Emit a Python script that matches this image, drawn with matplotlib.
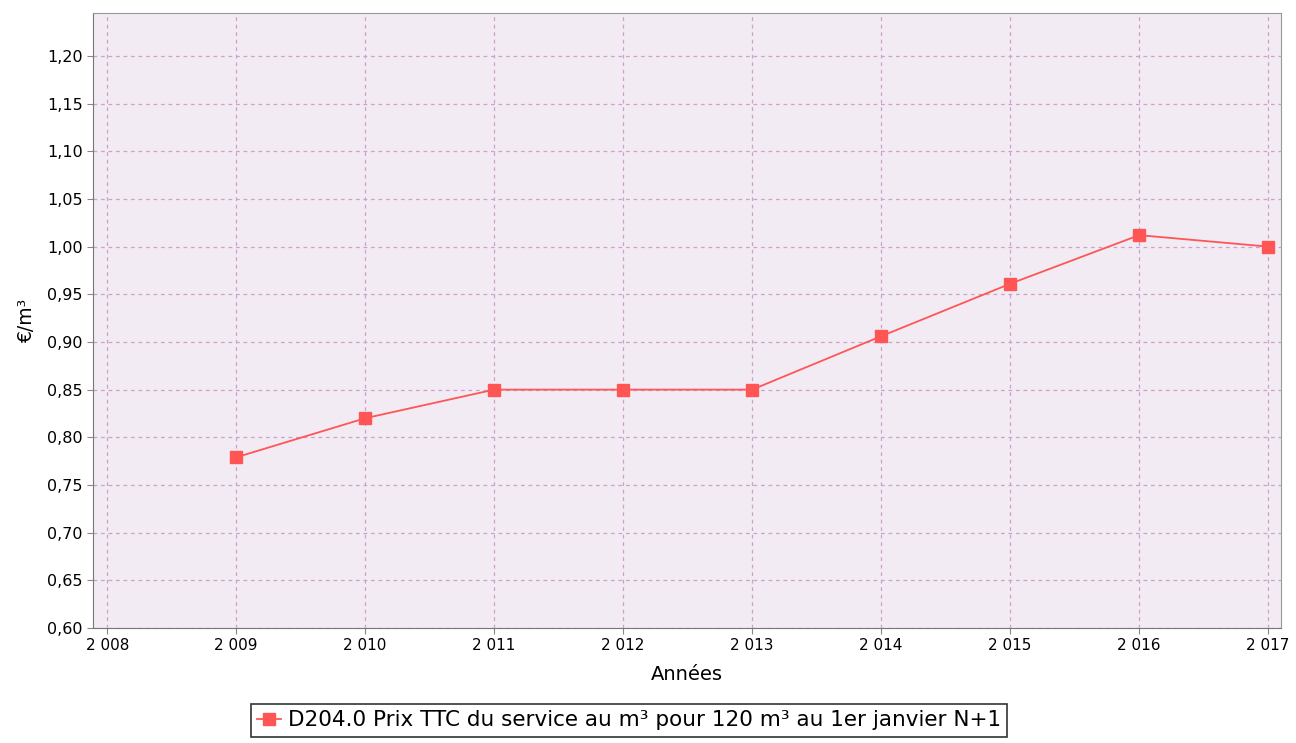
import matplotlib.pyplot as plt
from matplotlib.ticker import FuncFormatter, MultipleLocator

# D204.0 water price per m3
years = [2009, 2010, 2011, 2012, 2013, 2014, 2015, 2016, 2017]
prix = [0.779, 0.820, 0.85, 0.85, 0.85, 0.906, 0.961, 1.012, 1.00]
xticks = [2008, 2009, 2010, 2011, 2012, 2013, 2014, 2015, 2016, 2017]
label = "D204.0 Prix TTC du service au m³ pour 120 m³ au 1er janvier N+1"

plt.rcParams['font.family'] = ['DejaVu Sans']

fig = plt.figure(figsize=(12.96, 7.43), dpi=100)
ax = fig.add_axes([93 / 1296, 1 - 628 / 743, (1281 - 93) / 1296, (628 - 13) / 743])
ax.set_facecolor('#f3ebf3')

ax.plot(years, prix, color='#ff5555', marker='s', markersize=8, linewidth=1.3,
        label=label)

ax.set_xlim(2007.89, 2017.1)
ax.set_ylim(0.6, 1.245)
ax.set_xticks(xticks)
ax.xaxis.set_major_formatter(FuncFormatter(lambda v, p: "2 %03d" % (int(v) - 2000)))
ax.yaxis.set_major_locator(MultipleLocator(0.05))
ax.yaxis.set_major_formatter(FuncFormatter(lambda v, p: ("%.2f" % v).replace('.', ',')))
ax.tick_params(axis='x', labelsize=11, length=4, color='#888888')
ax.tick_params(axis='y', labelsize=11.5, length=4, color='#888888')

ax.grid(True, color='#c9a3c9', linestyle=(0, (3, 3)), linewidth=0.9)
for s in ax.spines.values():
    s.set_color('#999999')
ax.spines['bottom'].set_color('#777777')
ax.spines['left'].set_color('#777777')

ax.set_xlabel("Années", fontsize=14, labelpad=8)
ax.set_ylabel("€/m³", fontsize=13.5, labelpad=8)

leg = fig.legend(loc='upper center', bbox_to_anchor=(629 / 1296, 1 - 704 / 743), fontsize=15.5,
                 frameon=True, fancybox=False, edgecolor='black', handlelength=1.1,
                 handletextpad=0.3, borderpad=0.3, borderaxespad=0)
leg.get_frame().set_linewidth(1.2)

plt.savefig('out.png', dpi=100)
